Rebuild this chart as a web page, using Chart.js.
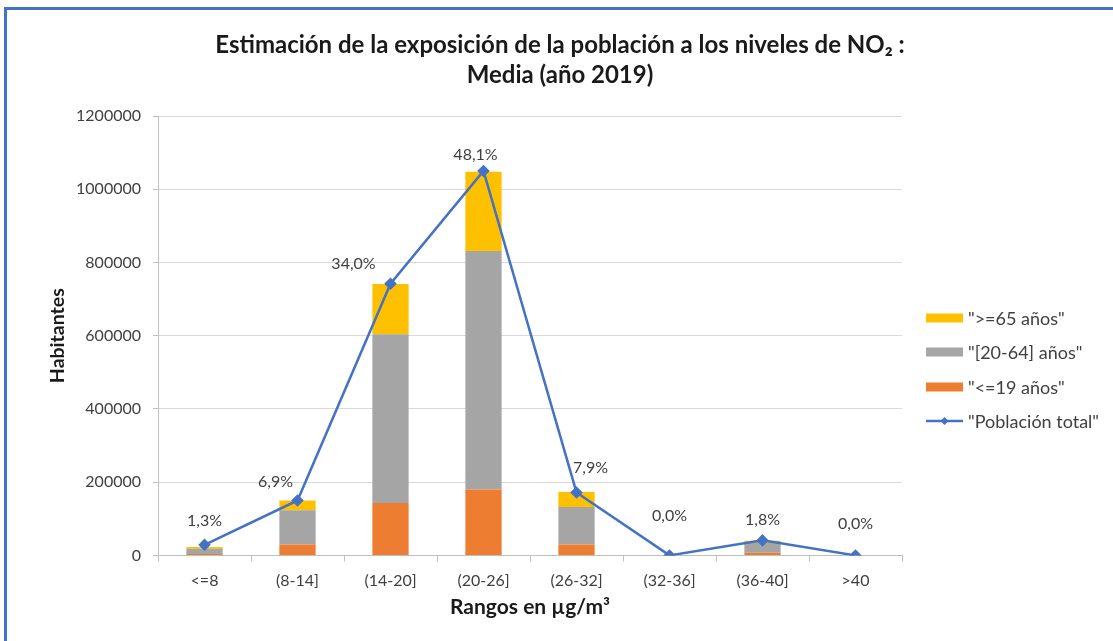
<!DOCTYPE html>
<html>
<head>
<meta charset="utf-8">
<script src="https://cdn.jsdelivr.net/npm/chart.js@4.4.1/dist/chart.umd.min.js"></script>
<style>
html,body{margin:0;padding:0;background:#fff;overflow:hidden}
#wrap{position:relative;width:1113px;height:641px;overflow:hidden;background:#fff}
#frame{position:absolute;left:4px;top:7px;width:1300px;height:800px;border-top:3px solid #4472C4;border-left:3px solid #4472C4;box-shadow:1px 1px 1px rgba(150,150,150,0.5)}
canvas{position:absolute;left:0;top:0}
</style>
</head>
<body>
<div id="wrap"><div id="frame"></div><canvas id="c" width="1113" height="641"></canvas></div>
<script>
// ---- data ----
const categories = ['<=8', '(8-14]', '(14-20]', '(20-26]', '(26-32]', '(32-36]', '(36-40]', '>40'];
const age0to19   = [4000, 30000, 143000, 180000, 30000, 0, 7000, 0];
const age20to64  = [14000, 93000, 461000, 651000, 102000, 0, 27000, 0];
const age65plus  = [5000, 27000, 137000, 217000, 41000, 0, 6000, 0];
const totalPopulation = [29000, 150000, 742000, 1050000, 172000, 0, 41000, 0];
const pctLabels  = ['1,3%', '6,9%', '34,0%', '48,1%', '7,9%', '0,0%', '1,8%', '0,0%'];
const seriesNames = ['"<=19 años"', '"[20-64] años"', '">=65 años"', '"Población total"'];
const yMin = 0, yMax = 1200000, yStep = 200000;

const FONT = 'Lato, "Open Sans", sans-serif';
const BLUE = '#4472C4';

const pctLabelPlugin = {
  id: 'pctLabels',
  afterDatasetsDraw(chart, args, opts) {
    const meta = chart.getDatasetMeta(3);
    const ctx = chart.ctx;
    ctx.save();
    ctx.font = '16px ' + FONT;
    ctx.fillStyle = '#404040';
    ctx.textAlign = 'center';
    ctx.textBaseline = 'middle';
    meta.data.forEach((pt, i) => {
      const o = opts.offsets[i] || [0, -24];
      ctx.fillText(pctLabels[i], pt.x + o[0], pt.y + o[1]);
    });
    ctx.restore();
  }
};

const customLegend = {
  id: 'customLegend',
  afterDraw(chart, args, opts) {
    const ctx = chart.ctx;
    const ds = chart.data.datasets;
    ctx.save();
    ctx.font = '18px ' + FONT;
    ctx.textBaseline = 'middle';
    ctx.textAlign = 'left';
    opts.order.forEach((di, row) => {
      const d = ds[di];
      const y = opts.rows[row];
      const x = opts.x;
      if (d.type === 'line') {
        ctx.strokeStyle = d.borderColor;
        ctx.lineWidth = 2.5;
        ctx.beginPath();
        ctx.moveTo(x, y);
        ctx.lineTo(x + opts.swatchW, y);
        ctx.stroke();
        ctx.fillStyle = d.borderColor;
        const cx = x + opts.swatchW / 2, r = 4;
        ctx.beginPath();
        ctx.moveTo(cx, y - r); ctx.lineTo(cx + r, y); ctx.lineTo(cx, y + r); ctx.lineTo(cx - r, y);
        ctx.closePath();
        ctx.fill();
      } else {
        ctx.fillStyle = d.backgroundColor;
        ctx.fillRect(x, y - opts.swatchH / 2, opts.swatchW, opts.swatchH);
      }
      ctx.fillStyle = '#404040';
      ctx.fillText(d.label, x + opts.swatchW + 5, y + 1);
    });
    ctx.restore();
  }
};

new Chart(document.getElementById('c'), {
  data: {
    labels: categories,
    datasets: [
      { type: 'bar', label: seriesNames[0], data: age0to19, backgroundColor: '#ED7D31', stack: 's', order: 1, yAxisID: 'y' },
      { type: 'bar', label: seriesNames[1], data: age20to64, backgroundColor: '#A5A5A5', stack: 's', order: 1, yAxisID: 'y' },
      { type: 'bar', label: seriesNames[2], data: age65plus, backgroundColor: '#FFC000', stack: 's', order: 1, yAxisID: 'y' },
      { type: 'line', label: seriesNames[3], data: totalPopulation, borderColor: BLUE, backgroundColor: BLUE,
        borderWidth: 2.5, pointStyle: 'rectRot', pointRadius: 4.5, pointBackgroundColor: BLUE, pointBorderColor: BLUE,
        tension: 0, order: 0, yAxisID: 'y' }
    ]
  },
  options: {
    responsive: false,
    animation: false,
    devicePixelRatio: 1,
    layout: { padding: { left: 44, right: 37, top: 20, bottom: 19 } },
    datasets: { bar: { barPercentage: 0.39, categoryPercentage: 1.0 } },
    plugins: {
      legend: { display: false },
      tooltip: { enabled: false },
      title: {
        display: true,
        text: ['Estimación de la exposición de la población a los niveles de NO₂ :', 'Media (año 2019)'],
        color: '#1a1a1a',
        font: { family: FONT, size: 24, weight: 'bold', lineHeight: 1.25 },
        padding: { top: 10, bottom: 26 }
      },
      pctLabels: { offsets: [[0, -24], [-22, -19], [-37, -20], [-8, -16], [14, -25], [0, -40], [0, -21], [0, -32]] },
      customLegend: { order: [2, 1, 0, 3], x: 926, rows: [318, 352, 387, 421], swatchW: 37, swatchH: 9 }
    },
    scales: {
      x: {
        stacked: true,
        grid: { display: true, drawOnChartArea: false, drawTicks: true, tickLength: 6, color: '#bfbfbf', offset: true },
        border: { display: true, color: '#bfbfbf', width: 1 },
        ticks: { color: '#404040', font: { family: FONT, size: 16 }, padding: 10, autoSkip: false, maxRotation: 0 },
        title: { display: true, text: 'Rangos en µg/m³', color: '#1a1a1a', font: { family: FONT, size: 21, weight: 'bold' }, padding: { top: 4, bottom: 2 } },
        afterFit(s) { s.height = 66.6; }
      },
      y: {
        stacked: true,
        min: yMin, max: yMax,
        grid: { color: '#d9d9d9', tickLength: 5, drawTicks: true, tickColor: '#bfbfbf' },
        border: { display: true, color: '#bfbfbf', width: 1 },
        ticks: { stepSize: yStep, color: '#404040', font: { family: FONT, size: 16 }, padding: 12, callback: v => String(v) },
        title: { display: true, text: 'Habitantes', color: '#1a1a1a', font: { family: FONT, size: 19.5, weight: 'bold' }, padding: { top: 2, bottom: 4 } },
        afterFit(s) { s.width = 114; }
      },
      legendSpace: {
        type: 'linear', position: 'right', display: true,
        grid: { display: false, drawTicks: false },
        border: { display: false },
        ticks: { display: false },
        afterFit(s) { s.width = 174; }
      }
    }
  },
  plugins: [pctLabelPlugin, customLegend]
});
</script>
</body>
</html>
